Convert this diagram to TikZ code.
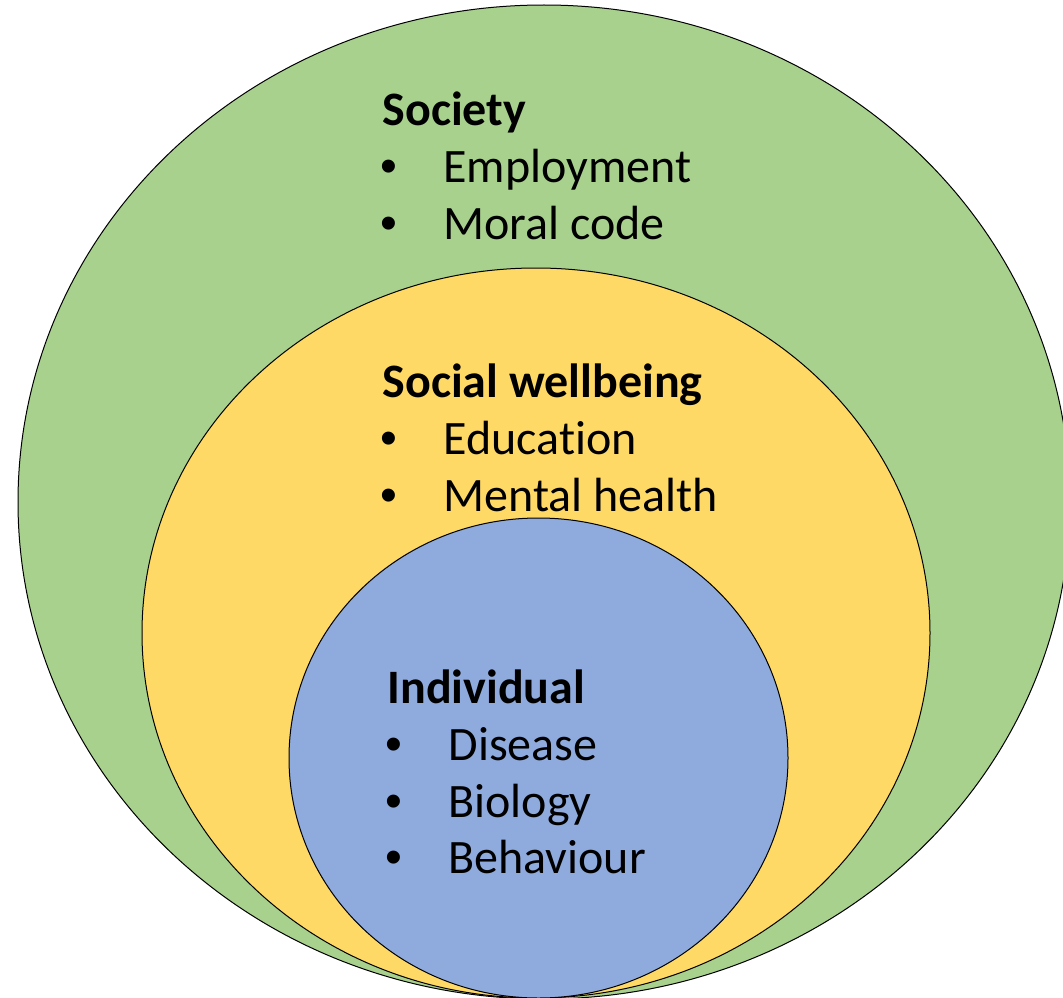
\documentclass[tikz,border=0pt]{standalone}
\usepackage{fontspec}
\setmainfont{Carlito}[Ligatures=NoCommon]
\newfontfamily\bulletfont{Liberation Sans}
\definecolor{outergreen}{HTML}{A9D18E}
\definecolor{midyellow}{HTML}{FFD966}
\definecolor{innerblue}{HTML}{8FAADC}
\tikzset{
    head/.style={anchor=base west, inner sep=0pt, font=\fontsize{48}{56}\selectfont\bfseries},
    item/.style={anchor=base west, inner sep=0pt, font=\fontsize{48}{56}\selectfont},
    dot/.style={anchor=base west, inner sep=0pt, font=\fontsize{48}{56}\bulletfont},
}
\begin{document}
\begin{tikzpicture}[x=1pt,y=-1pt,line width=1pt]
            \useasboundingbox (0,0) rectangle (1063,998);
            \clip (0,0) rectangle (1063,998);

            \coordinate (S) at (544,502);
            \coordinate (W) at (536,633);
            \coordinate (I) at (538.5,758);

            \filldraw[fill=outergreen] (S) ellipse [x radius=526, y radius=497];
            \filldraw[fill=midyellow] (W) ellipse [x radius=394, y radius=365];
            \filldraw[fill=innerblue] (I) ellipse [x radius=249.5, y radius=240];

            % society
            \node[head] (soc) at (382,125) {Society};
            \node[dot] (socb1) at (380,182) {•};
            \node[item] (soc1) at (443,182) {Employment};
            \node[dot] (socb2) at (380,239) {•};
            \node[item] (soc2) at (443,239) {Moral code};

            % social wellbeing
            \node[head] (wel) at (382,397) {Social wellbeing};
            \node[dot] (welb1) at (380,454) {•};
            \node[item] (wel1) at (443,454) {Education};
            \node[dot] (welb2) at (380,511) {•};
            \node[item] (wel2) at (443,511) {Mental health};

            % individual
            \node[head] (ind) at (387,703) {Individual};
            \node[dot] (indb1) at (385,760) {•};
            \node[item] (ind1) at (448,760) {Disease};
            \node[dot] (indb2) at (385,817) {•};
            \node[item] (ind2) at (448,817) {Biology};
            \node[dot] (indb3) at (385,873) {•};
            \node[item] (ind3) at (448,873) {Behaviour};
        \end{tikzpicture}
\end{document}
